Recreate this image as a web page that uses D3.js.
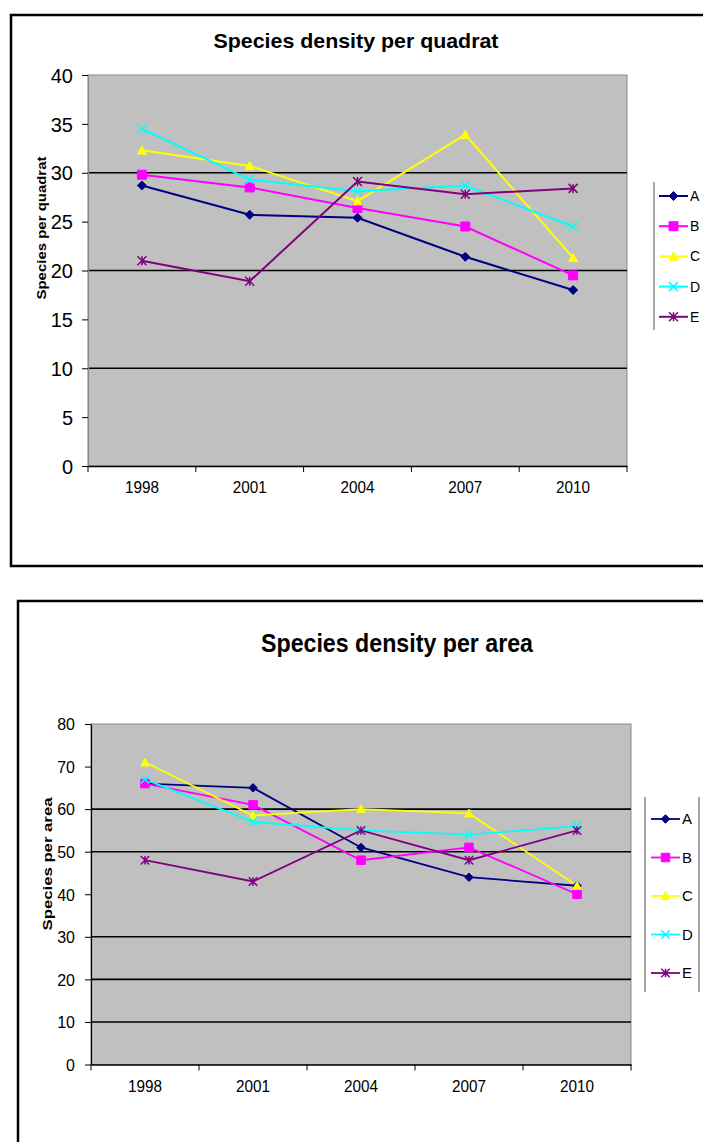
<!DOCTYPE html>
<html>
<head>
<meta charset="utf-8">
<script src="https://cdn.jsdelivr.net/npm/d3@7"></script>
<style>
  html, body { margin: 0; padding: 0; background: #fff; }
  svg { display: block; }
  text { font-family: "Liberation Sans", Arial, sans-serif; }
</style>
</head>
<body>
<svg id="chart" width="703" height="1142"></svg>
<script>
// ---------- DATA ----------
const years = ["1998", "2001", "2004", "2007", "2010"];
const seriesNames = ["A", "B", "C", "D", "E"];
const seriesColors = ["#000080", "#FF00FF", "#FFFF00", "#00FFFF", "#800080"];
const seriesMarkers = ["diamond", "square", "triangle", "x", "star"];

// Chart 1: Species density per quadrat
const quadratTitle = "Species density per quadrat";
const quadratAxisTitle = "Species per quadrat";
const quadratTicks = [0, 5, 10, 15, 20, 25, 30, 35, 40];
const quadratGrid = [10, 20, 30];
const quadratA = [28.7, 25.7, 25.4, 21.4, 18.0];
const quadratB = [29.8, 28.5, 26.4, 24.5, 19.5];
const quadratC = [32.3, 30.7, 27.1, 33.9, 21.3];
const quadratD = [34.5, 29.3, 28.1, 28.7, 24.5];
const quadratE = [21.0, 18.9, 29.1, 27.8, 28.4];

// Chart 2: Species density per area
const areaTitle = "Species density per area";
const areaAxisTitle = "Species per area";
const areaTicks = [0, 10, 20, 30, 40, 50, 60, 70, 80];
const areaGrid = [10, 20, 30, 50, 60];
const areaA = [66.0, 65.0, 51.0, 44.0, 42.0];
const areaB = [66.0, 61.0, 48.0, 51.0, 40.0];
const areaC = [71.0, 58.5, 60.0, 59.0, 42.0];
const areaD = [67.0, 57.0, 55.0, 54.0, 56.0];
const areaE = [48.0, 43.0, 55.0, 48.0, 55.0];

// ---------- DRAWING ----------
const svg = d3.select("#chart");

function markerPath(type, s) {
  const h = s / 2;
  switch (type) {
    case "diamond": return `M0,${-h}L${h},0L0,${h}L${-h},0Z`;
    case "square": return `M${-h},${-h}H${h}V${h}H${-h}Z`;
    case "triangle": return `M0,${-h}L${h},${h * 0.85}L${-h},${h * 0.85}Z`;
    case "x": return `M${-h},${-h}L${h},${h}M${-h},${h}L${h},${-h}`;
    case "star": return `M${-h},${-h}L${h},${h}M${-h},${h}L${h},${-h}M0,${-h}V${h}`;
  }
}
function drawMarker(g, type, color, s, x, y) {
  const filled = type === "diamond" || type === "square" || type === "triangle";
  g.append("path")
    .attr("d", markerPath(type, s))
    .attr("transform", `translate(${x},${y})`)
    .attr("fill", filled ? color : "none")
    .attr("stroke", color)
    .attr("stroke-width", filled ? 1 : 1.5);
}

function drawChart(cfg) {
  const g = svg.append("g");

  // frame
  g.append("rect")
    .attr("x", cfg.frame[0]).attr("y", cfg.frame[1])
    .attr("width", cfg.frame[2]).attr("height", cfg.frame[3])
    .attr("fill", "none").attr("stroke", "#000").attr("stroke-width", 2.5);

  const x = d3.scaleBand().domain(years).range([cfg.left, cfg.right]).paddingInner(0).paddingOuter(0);
  const y = d3.scaleLinear().domain([cfg.ticks[0], cfg.ticks[cfg.ticks.length - 1]]).range([cfg.bottom, cfg.top]);
  const cx = d => x(d) + x.bandwidth() / 2;

  // plot area
  g.append("rect")
    .attr("x", cfg.left).attr("y", cfg.top)
    .attr("width", cfg.right - cfg.left).attr("height", cfg.bottom - cfg.top)
    .attr("fill", "#C0C0C0").attr("stroke", "#8a8a8a").attr("stroke-width", 1);

  // gridlines
  g.selectAll(".grid").data(cfg.grid).enter().append("line")
    .attr("x1", cfg.left).attr("x2", cfg.right)
    .attr("y1", d => y(d)).attr("y2", d => y(d))
    .attr("stroke", "#000").attr("stroke-width", 1.6);

  // y axis
  const yAxis = g.append("g").attr("transform", `translate(${cfg.left},0)`)
    .call(d3.axisLeft(y).tickValues(cfg.ticks).tickSize(6).tickSizeOuter(0).tickPadding(cfg.yPad));
  yAxis.select(".domain").attr("stroke", cfg.yAxisColor).attr("stroke-width", 1.2);
  yAxis.selectAll(".tick line").attr("stroke", "#000").attr("stroke-width", 1);
  yAxis.selectAll(".tick text")
    .attr("fill", "#000").attr("font-size", cfg.yFont).attr("dy", "0.36em")
    .style("font-family", "'Liberation Sans', Arial, sans-serif");

  // x axis (labels centered in bands)
  const xAxis = g.append("g").attr("transform", `translate(0,${cfg.bottom})`)
    .call(d3.axisBottom(x).tickSize(0).tickSizeOuter(0).tickPadding(cfg.xPad));
  xAxis.select(".domain").attr("stroke", "#000").attr("stroke-width", 1.6);
  xAxis.selectAll(".tick text")
    .attr("fill", "#000").attr("font-size", cfg.xFont)
    .attr("textLength", cfg.xTextLen).attr("lengthAdjust", "spacingAndGlyphs")
    .style("font-family", "'Liberation Sans', Arial, sans-serif");
  // boundary tick marks
  const bounds = years.map(d => x(d)).concat([cfg.right]);
  g.selectAll(".xb").data(bounds).enter().append("line")
    .attr("x1", d => d).attr("x2", d => d)
    .attr("y1", cfg.bottom).attr("y2", cfg.bottom + 6)
    .attr("stroke", "#000").attr("stroke-width", 1);

  // title
  g.append("text")
    .attr("x", cfg.titleX).attr("y", cfg.titleY)
    .attr("text-anchor", "middle").attr("font-weight", "bold")
    .attr("font-size", cfg.titleFont)
    .attr("textLength", cfg.titleLen).attr("lengthAdjust", "spacingAndGlyphs")
    .text(cfg.title);

  // y axis title
  g.append("text")
    .attr("transform", `translate(${cfg.yTitleX},${cfg.yTitleY}) rotate(-90)`)
    .attr("text-anchor", "middle").attr("font-weight", "bold")
    .attr("font-size", cfg.yTitleFont)
    .attr("textLength", cfg.yTitleLen).attr("lengthAdjust", "spacingAndGlyphs")
    .text(cfg.yTitle);

  // series
  const line = d3.line().x(d => cx(d.year)).y(d => y(d.v));
  cfg.series.forEach((vals, i) => {
    const pts = years.map((yr, j) => ({ year: yr, v: vals[j] }));
    g.append("path").datum(pts)
      .attr("d", line).attr("fill", "none")
      .attr("stroke", seriesColors[i]).attr("stroke-width", cfg.lineW);
  });
  cfg.series.forEach((vals, i) => {
    years.forEach((yr, j) => drawMarker(g, seriesMarkers[i], seriesColors[i], cfg.markerSize, cx(yr), y(vals[j])));
  });

  // legend
  const lg = g.append("g");
  cfg.legendLines.forEach(lx => {
    lg.append("line").attr("x1", lx).attr("x2", lx)
      .attr("y1", cfg.legendTop).attr("y2", cfg.legendBottom)
      .attr("stroke", "#8a8a8a").attr("stroke-width", 1.5);
  });
  seriesNames.forEach((name, i) => {
    const ly = cfg.legendY0 + i * cfg.legendStep;
    lg.append("line").attr("x1", cfg.legendX1).attr("x2", cfg.legendX2)
      .attr("y1", ly).attr("y2", ly)
      .attr("stroke", seriesColors[i]).attr("stroke-width", cfg.lineW);
    drawMarker(lg, seriesMarkers[i], seriesColors[i], cfg.markerSize, (cfg.legendX1 + cfg.legendX2) / 2, ly);
    lg.append("text").attr("x", cfg.legendX2 + 2).attr("y", ly)
      .attr("dy", "0.36em").attr("font-size", cfg.legendFont)
      .text(name);
  });
}

drawChart({
  frame: [11, 15, 720, 551],
  left: 88, right: 627, top: 75, bottom: 466,
  ticks: quadratTicks, grid: quadratGrid,
  yFont: 20, yPad: 9, yAxisColor: "#8a8a8a",
  xFont: 16, xPad: 16, xTextLen: 34,
  title: quadratTitle, titleX: 356, titleY: 48, titleFont: 21, titleLen: 285,
  yTitle: quadratAxisTitle, yTitleX: 46, yTitleY: 228, yTitleFont: 13, yTitleLen: 143,
  series: [quadratA, quadratB, quadratC, quadratD, quadratE],
  lineW: 2, markerSize: 9,
  legendLines: [654], legendTop: 182, legendBottom: 330,
  legendY0: 196, legendStep: 30.2, legendX1: 659, legendX2: 688, legendFont: 14
});

drawChart({
  frame: [18, 601, 720, 600],
  left: 91, right: 631, top: 724, bottom: 1064.5,
  ticks: areaTicks, grid: areaGrid,
  yFont: 16, yPad: 10, yAxisColor: "#000",
  xFont: 16, xPad: 16, xTextLen: 34,
  title: areaTitle, titleX: 397, titleY: 652, titleFont: 26, titleLen: 272,
  yTitle: areaAxisTitle, yTitleX: 52, yTitleY: 864, yTitleFont: 13, yTitleLen: 133,
  series: [areaA, areaB, areaC, areaD, areaE],
  lineW: 1.8, markerSize: 8.5,
  legendLines: [645, 699], legendTop: 797, legendBottom: 992,
  legendY0: 819, legendStep: 38.5, legendX1: 651, legendX2: 680, legendFont: 15
});
</script>
</body>
</html>
